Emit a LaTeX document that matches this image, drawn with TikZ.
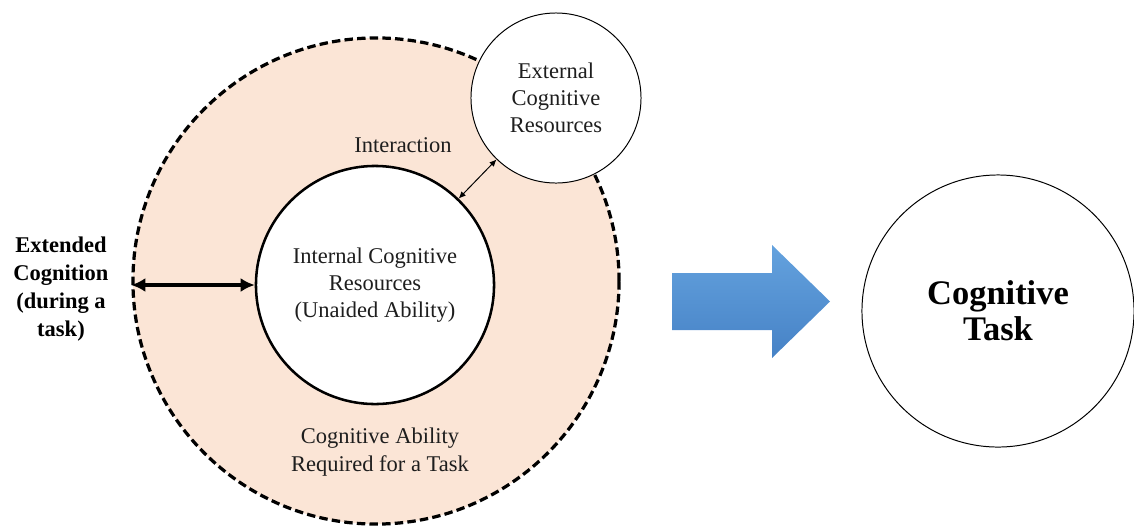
\documentclass[tikz,border=0pt]{standalone}
\usepackage{fontspec}
\setmainfont{Liberation Serif}
\usetikzlibrary{arrows.meta}
\usetikzlibrary{positioning}
\definecolor{peach}{HTML}{FBE5D6}
\definecolor{arrowtop}{HTML}{64A2DE}
\definecolor{arrowbottom}{HTML}{4682C6}
\definecolor{inkgray}{HTML}{1E1E1E}
\tikzstyle{abilitycircle}=[circle,draw=black,fill=peach,line width=2.3pt,dash pattern=on 6pt off 3pt,minimum size=12.15cm,inner sep=0pt]
\tikzstyle{internalcircle}=[circle,draw=black,fill=white,line width=1.8pt,minimum size=5.95cm,inner sep=0pt,align=center,text=inkgray,font=\fontsize{16}{19}\selectfont]
\tikzstyle{externalcircle}=[circle,draw=black,fill=white,line width=0.7pt,minimum size=4.25cm,inner sep=0pt,align=center,text=inkgray,font=\fontsize{16}{19}\selectfont]
\tikzstyle{taskcircle}=[circle,draw=black,line width=0.7pt,minimum size=6.8cm,inner sep=0pt,align=center,font=\fontsize{24.5}{25.5}\selectfont\bfseries]
\tikzstyle{plaintext}=[align=center,text=inkgray,font=\fontsize{16}{20.5}\selectfont]
\tikzstyle{boldtext}=[align=center,font=\fontsize{16}{20}\selectfont\bfseries]
\tikzstyle{thickedge} = [draw,line width=2.8pt,{Latex[length=10pt,width=10pt]}-{Latex[length=10pt,width=10pt]}]
\tikzstyle{thinedge} = [draw,line width=0.7pt,{Latex[length=5pt,width=4.5pt]}-{Latex[length=5pt,width=4.5pt]}]
\begin{document}
\begin{tikzpicture}[x=0.025cm, y=-0.025cm]
    \useasboundingbox (0,0) rectangle (1134,529);
    % First we draw the circles
    \node[abilitycircle] (ability) at (376,281) {};
    \node[internalcircle] (internal) at (375,285) {Internal Cognitive\\Resources\\(Unaided Ability)};
    \node[externalcircle] (external) at (556,98) {External\\Cognitive\\Resources};
    \node[taskcircle] (task) at (998,311) {Cognitive\\Task};

    % Then the texts
    \node[plaintext] (interaction) at (403,145) {Interaction};
    \node[plaintext] (required) at (380,452) {Cognitive Ability\\Required for a Task};
    \node[boldtext] (extended) at (61,289) {Extended\\Cognition\\(during a\\task)};

    % Connect circles with arrows
    \path[thickedge] (ability.west |- internal.west) -- (internal.west);
    \path[thinedge] (internal) -- (external);

    % Block arrow towards the task
    \shade[top color=arrowtop, bottom color=arrowbottom] (672,273) -- (772,273) -- (772,245) -- (830,301.5) -- (772,358) -- (772,330) -- (672,330) -- cycle;
\end{tikzpicture}
\end{document}
